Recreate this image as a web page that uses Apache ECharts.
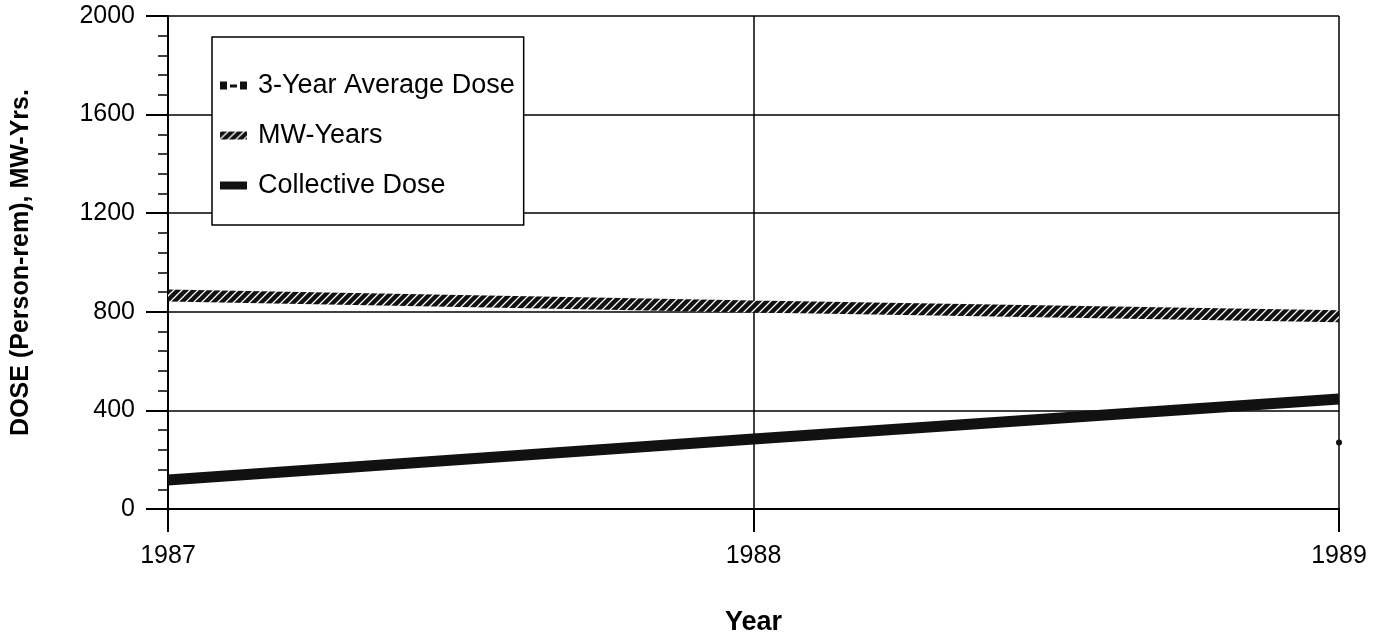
<!DOCTYPE html>
<html>
<head>
<meta charset="utf-8">
<script src="https://cdn.jsdelivr.net/npm/echarts@6/dist/echarts.min.js"></script>
<style>
html,body{margin:0;padding:0;background:#fff;}
#chart{width:1380px;height:641px;}
</style>
</head>
<body>
<div id="chart"></div>
<script>
// ---- data ----
const years = ['1987', '1988', '1989'];
const avgDose3yr = [null, null, 270];
const mwYears = [866, 822, 782];
const collectiveDose = [118, 284, 446];
const yTicks = [0, 400, 800, 1200, 1600, 2000];
const seriesNames = ['3-Year Average Dose', 'MW-Years', 'Collective Dose'];

// hatch pattern for MW-Years band
function makeHatch() {
  const c = document.createElement('canvas');
  c.width = 8; c.height = 8;
  const g = c.getContext('2d');
  g.fillStyle = '#111';
  g.fillRect(0, 0, 8, 8);
  g.strokeStyle = '#fff';
  g.lineWidth = 1.3;
  g.beginPath();
  g.moveTo(-1, 9); g.lineTo(9, -1);
  g.moveTo(-1, 1); g.lineTo(1, -1);
  g.moveTo(7, 9); g.lineTo(9, 7);
  g.stroke();
  return c;
}
const hatch = { image: makeHatch(), repeat: 'repeat' };

const chart = echarts.init(document.getElementById('chart'), null, { renderer: 'canvas' });
const font = 'Liberation Sans, Arial, Helvetica, sans-serif';

chart.setOption({
  backgroundColor: '#fff',
  animation: false,
  grid: { left: 168, right: 41, top: 16, bottom: 130, containLabel: false },
  legend: {
    orient: 'vertical',
    left: 212, top: 37,
    padding: [35, 9, 26, 8],
    itemGap: 23,
    itemWidth: 27, itemHeight: 8,
    backgroundColor: '#fff',
    borderColor: '#000', borderWidth: 1.5, borderRadius: 0,
    textStyle: { fontFamily: font, fontSize: 27, color: '#000', padding: [0, 0, 0, 6] },
    data: [
      { name: seriesNames[0], icon: 'path://M0,0h7v8h-7z M10,3h7v3h-7z M20,0h7v8h-7z', itemStyle: { color: '#111' } },
      { name: seriesNames[1], icon: 'rect', itemStyle: { color: hatch } },
      { name: seriesNames[2], icon: 'rect', itemStyle: { color: '#111' } }
    ]
  },
  xAxis: {
    type: 'category',
    data: years,
    boundaryGap: false,
    name: 'Year',
    nameLocation: 'middle',
    nameGap: 100,
    nameTextStyle: { fontFamily: font, fontSize: 27, fontWeight: 'bold', color: '#000' },
    axisLine: { lineStyle: { color: '#000', width: 2 } },
    axisTick: { show: true, length: 23, lineStyle: { color: '#000', width: 2 }, alignWithLabel: true },
    axisLabel: { fontFamily: font, fontSize: 25, color: '#000', margin: 35 },
    splitLine: { show: true, lineStyle: { color: '#000', width: 1.5 } }
  },
  yAxis: {
    type: 'value',
    min: 0, max: 2000, interval: 400,
    name: 'DOSE (Person-rem), MW-Yrs.',
    nameLocation: 'middle',
    nameGap: 134,
    nameRotate: 90,
    nameTextStyle: { fontFamily: font, fontSize: 25, fontWeight: 'bold', color: '#000' },
    axisLine: { show: true, lineStyle: { color: '#000', width: 2 } },
    axisTick: { show: true, length: 22, lineStyle: { color: '#000', width: 2 } },
    minorTick: { show: true, splitNumber: 5, length: 10, lineStyle: { color: '#000', width: 1.5 } },
    axisLabel: {
      fontFamily: font, fontSize: 25, color: '#000', margin: 33,
      formatter: v => (yTicks.indexOf(v) >= 0 ? String(v) : '')
    },
    splitLine: { show: true, lineStyle: { color: '#000', width: 1.5 } }
  },
  series: [
    {
      name: seriesNames[0], type: 'line', data: avgDose3yr,
      showSymbol: true, symbol: 'circle', symbolSize: 6,
      itemStyle: { color: '#111' },
      lineStyle: { color: '#111', width: 3, type: 'dashed' },
      z: 4
    },
    {
      name: seriesNames[1], type: 'line', data: mwYears,
      showSymbol: false, symbol: 'none',
      itemStyle: { color: hatch },
      lineStyle: { color: hatch, width: 12, cap: 'butt' },
      z: 3
    },
    {
      name: seriesNames[2], type: 'line', data: collectiveDose,
      showSymbol: false, symbol: 'none',
      itemStyle: { color: '#111' },
      lineStyle: { color: '#111', width: 11, cap: 'butt' },
      z: 3
    }
  ]
});
</script>
</body>
</html>
